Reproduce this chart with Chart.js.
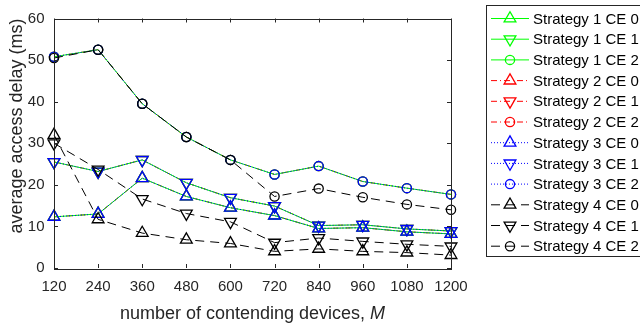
<!DOCTYPE html>
<html lang="en">
  <head>
    <meta charset="UTF-8" />
    <script src="https://cdn.jsdelivr.net/npm/chart.js@4.4.1/dist/chart.umd.min.js"></script>
    <title>access delay</title>
    <style>
      body {
        margin: 0;
        padding: 0;
        background: #fff;
      }
      .container {
        width: 640px;
        height: 328px;
      }
    </style>
  </head>
  <body>
    <div class="container">
      <canvas id="delayChart" width="640" height="328"></canvas>
    </div>
    <script>
      const devices = [120, 240, 360, 480, 600, 720, 840, 960, 1080, 1200]
      const yTicks = [0, 10, 20, 30, 40, 50, 60]

      // strategies 1-3 give the same delays
      const sharedCe0 = [12.3, 13.0, 21.6, 17.2, 14.5, 12.6, 9.5, 9.7, 8.7, 8.2]
      const sharedCe1 = [25.5, 23.2, 26.0, 20.5, 16.9, 14.9, 10.2, 10.4, 9.4, 8.9]
      const sharedCe2 = [50.8, 52.5, 39.5, 31.5, 26.0, 22.5, 24.5, 20.8, 19.2, 17.7]
      const s4Ce0 = [32.0, 11.7, 8.4, 6.8, 5.9, 4.0, 4.6, 4.0, 3.7, 3.1]
      const s4Ce1 = [30.0, 23.7, 16.6, 13.1, 11.1, 6.1, 7.2, 6.4, 5.7, 5.2]
      const s4Ce2 = [50.5, 52.5, 39.5, 31.5, 26.0, 17.2, 19.1, 17.0, 15.3, 14.0]

      const strategies = [
        { name: 'Strategy 1', color: '#00ff00', dash: [], order: 2, values: [sharedCe0, sharedCe1, sharedCe2] },
        { name: 'Strategy 2', color: '#ff0000', dash: [6, 3, 1, 3], order: 3, values: [sharedCe0, sharedCe1, sharedCe2] },
        { name: 'Strategy 3', color: '#0000ff', dash: [1, 2], order: 1, values: [sharedCe0, sharedCe1, sharedCe2] },
        { name: 'Strategy 4', color: '#000000', dash: [9, 6], order: 0, values: [s4Ce0, s4Ce1, s4Ce2] },
      ]
      const markers = [
        { style: 'triangle', rotation: 0, radius: 6.8 },
        { style: 'triangle', rotation: 180, radius: 6.8 },
        { style: 'circle', rotation: 0, radius: 4.6 },
      ]

      const datasets = []
      strategies.forEach((s) => {
        s.values.forEach((vals, ce) => {
          datasets.push({
            label: s.name + ' CE ' + ce,
            data: vals.map((v, i) => ({ x: devices[i], y: v })),
            borderColor: s.color,
            borderWidth: 1,
            borderDash: s.dash,
            pointStyle: markers[ce].style,
            pointRotation: markers[ce].rotation,
            pointRadius: markers[ce].radius,
            pointBorderColor: s.color,
            pointBackgroundColor: 'rgba(0,0,0,0)',
            pointBorderWidth: 1.3,
            tension: 0,
            clip: false,
            order: s.order,
          })
        })
      })

      const FONT = "'Liberation Sans', Arial, sans-serif"

      function drawMarker(ctx, style, rotation, r, x, y) {
        ctx.beginPath()
        if (style === 'circle') {
          ctx.arc(x, y, r, 0, Math.PI * 2)
        } else {
          let rad = (rotation * Math.PI) / 180
          for (let k = 0; k < 3; k++) {
            const px = x + Math.sin(rad) * r
            const py = y - Math.cos(rad) * r
            k === 0 ? ctx.moveTo(px, py) : ctx.lineTo(px, py)
            rad += (2 * Math.PI) / 3
          }
          ctx.closePath()
        }
        ctx.stroke()
      }

      // box, inward ticks, axis titles and the legend panel
      const framePlugin = {
        id: 'frame',
        afterDraw(chart) {
          const ctx = chart.ctx
          const { left, right, top, bottom } = chart.chartArea
          const xs = chart.scales.x
          const ys = chart.scales.y
          ctx.save()
          ctx.strokeStyle = '#262626'
          ctx.lineWidth = 1
          ctx.setLineDash([])
          ctx.strokeRect(Math.round(left) + 0.5, Math.round(top) + 0.5, Math.round(right - left), Math.round(bottom - top))
          ctx.beginPath()
          devices.forEach((v) => {
            const px = Math.round(xs.getPixelForValue(v)) + 0.5
            ctx.moveTo(px, bottom)
            ctx.lineTo(px, bottom - 4)
            ctx.moveTo(px, top)
            ctx.lineTo(px, top + 4)
          })
          yTicks.forEach((v) => {
            const py = Math.round(ys.getPixelForValue(v)) + 0.5
            ctx.moveTo(left, py)
            ctx.lineTo(left + 4, py)
            ctx.moveTo(right, py)
            ctx.lineTo(right - 4, py)
          })
          ctx.stroke()

          // axis titles
          ctx.fillStyle = '#262626'
          ctx.textBaseline = 'alphabetic'
          const main = 'number of contending devices, '
          ctx.font = 'italic 18px ' + FONT
          const mW = ctx.measureText('M').width
          ctx.font = '18px ' + FONT
          const mainW = ctx.measureText(main).width
          const cx = (left + right) / 2
          const x0 = cx - (mainW + mW) / 2
          ctx.textAlign = 'left'
          ctx.fillText(main, x0, 318.5)
          ctx.font = 'italic 18px ' + FONT
          ctx.fillText('M', x0 + mainW, 318.5)

          ctx.save()
          ctx.translate(22, 126)
          ctx.rotate(-Math.PI / 2)
          ctx.font = '18px ' + FONT
          ctx.textAlign = 'center'
          ctx.fillText('average access delay (ms)', 0, 0)
          ctx.restore()

          // legend panel
          ctx.fillStyle = '#ffffff'
          ctx.fillRect(486, 5, 160, 252)
          ctx.strokeStyle = '#262626'
          ctx.strokeRect(486.5, 5.5, 160, 251)
          ctx.font = '15px ' + FONT
          ctx.textAlign = 'left'
          ctx.textBaseline = 'middle'
          chart.data.datasets.forEach((ds, i) => {
            const y = 18.5 + i * 20.7
            ctx.strokeStyle = ds.borderColor
            ctx.lineWidth = 1
            ctx.setLineDash(ds.borderDash)
            ctx.beginPath()
            ctx.moveTo(491, y)
            ctx.lineTo(529, y)
            ctx.stroke()
            ctx.setLineDash([])
            ctx.lineWidth = 1.3
            drawMarker(ctx, ds.pointStyle, ds.pointRotation, ds.pointRadius, 510, y)
            ctx.fillStyle = '#000000'
            ctx.fillText(ds.label, 533, y + 1)
          })
          ctx.restore()
        },
      }

      new Chart(document.getElementById('delayChart'), {
        type: 'line',
        data: { datasets },
        options: {
          responsive: false,
          animation: false,
          layout: { padding: { top: 5, right: 189, left: 0, bottom: 0 } },
          plugins: {
            legend: { display: false },
            tooltip: { enabled: false },
          },
          scales: {
            x: {
              type: 'linear',
              min: 120,
              max: 1200,
              afterFit: (scale) => {
                scale.height = 60
              },
              afterBuildTicks: (scale) => {
                scale.ticks = devices.map((v) => ({ value: v }))
              },
              grid: { display: false, drawTicks: false },
              border: { display: false },
              ticks: {
                color: '#262626',
                font: { family: FONT, size: 15 },
                padding: 10,
                maxRotation: 0,
                autoSkip: false,
                callback: (v) => String(v),
              },
            },
            y: {
              min: 0,
              max: 60,
              afterFit: (scale) => {
                scale.width = 54
              },
              afterBuildTicks: (scale) => {
                scale.ticks = yTicks.map((v) => ({ value: v }))
              },
              grid: { display: false, drawTicks: false },
              border: { display: false },
              ticks: {
                color: '#262626',
                font: { family: FONT, size: 15 },
                padding: 9.5,
                callback: (v) => String(v),
              },
            },
          },
        },
        plugins: [framePlugin],
      })
    </script>
  </body>
</html>
